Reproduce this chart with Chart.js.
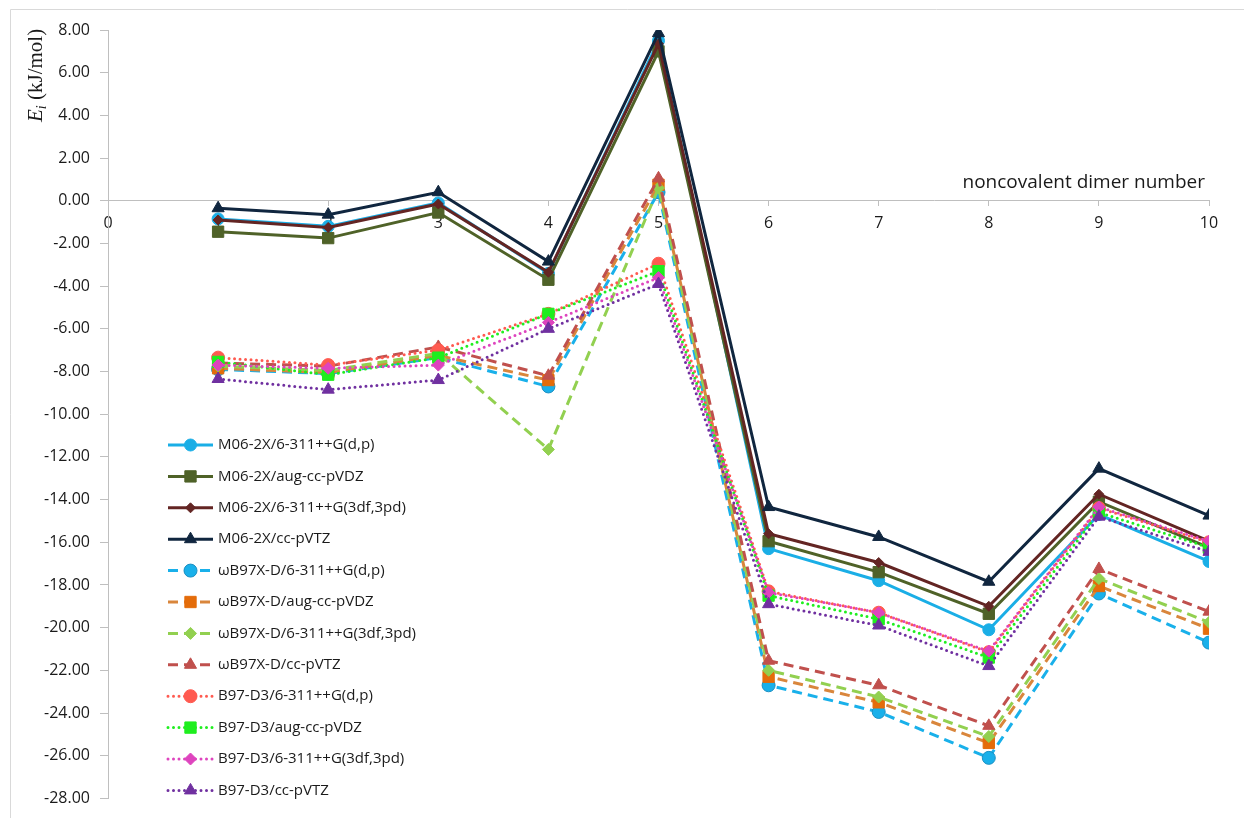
<!DOCTYPE html>
<html>
<head>
<meta charset="utf-8">
<script src="https://cdn.jsdelivr.net/npm/chart.js@4.4.1/dist/chart.umd.min.js"></script>
<style>
  html, body { margin: 0; padding: 0; background: #fff; }
  #wrap { position: relative; width: 1244px; height: 818px; }
</style>
</head>
<body>
<div id="wrap"><canvas id="myChart" width="1244" height="818"></canvas></div>
<script>
// dimer numbers on the x axis
var categories = [1, 2, 3, 4, 5, 6, 7, 8, 9, 10];
var xTicks = [0, 1, 2, 3, 4, 5, 6, 7, 8, 9, 10];
var yTicks = [8, 6, 4, 2, 0, -2, -4, -6, -8, -10, -12, -14, -16, -18, -20, -22, -24, -26, -28];

// series names
var seriesNames = [
  'M06-2X/6-311++G(d,p)', 'M06-2X/aug-cc-pVDZ', 'M06-2X/6-311++G(3df,3pd)', 'M06-2X/cc-pVTZ',
  '\u03c9B97X-D/6-311++G(d,p)', '\u03c9B97X-D/aug-cc-pVDZ', '\u03c9B97X-D/6-311++G(3df,3pd)', '\u03c9B97X-D/cc-pVTZ',
  'B97-D3/6-311++G(d,p)', 'B97-D3/aug-cc-pVDZ', 'B97-D3/6-311++G(3df,3pd)', 'B97-D3/cc-pVTZ'
];

// E_i values (kJ/mol)
var m062xDp   = [-0.85, -1.20, -0.10, -3.40, 7.50, -16.30, -17.80, -20.10, -14.70, -16.90];
var m062xAvdz = [-1.45, -1.75, -0.55, -3.70, 7.00, -15.95, -17.40, -19.35, -14.10, -16.25];
var m062x3df  = [-0.90, -1.25, -0.15, -3.35, 7.35, -15.60, -16.95, -19.00, -13.75, -15.95];
var m062xVtz  = [-0.35, -0.65, 0.40, -2.85, 7.85, -14.35, -15.75, -17.85, -12.55, -14.75];
var wbDp      = [-7.90, -8.10, -7.35, -8.70, 0.40, -22.70, -23.95, -26.10, -18.40, -20.70];
var wbAvdz    = [-7.85, -8.05, -7.25, -8.40, 0.75, -22.30, -23.50, -25.40, -18.05, -20.05];
var wb3df     = [-7.75, -7.95, -7.15, -11.65, 0.60, -22.00, -23.25, -25.10, -17.70, -19.75];
var wbVtz     = [-7.60, -7.75, -6.85, -8.20, 1.05, -21.55, -22.70, -24.60, -17.25, -19.25];
var b97Dp     = [-7.35, -7.70, -7.00, -5.30, -2.95, -18.30, -19.30, -21.15, -14.40, -16.00];
var b97Avdz   = [-7.55, -8.15, -7.35, -5.30, -3.30, -18.50, -19.60, -21.40, -14.60, -16.25];
var b973df    = [-7.70, -7.85, -7.70, -5.70, -3.60, -18.35, -19.30, -21.10, -14.35, -15.95];
var b97Vtz    = [-8.35, -8.85, -8.40, -6.00, -3.90, -18.90, -19.90, -21.80, -14.80, -16.45];

var allValues = [m062xDp, m062xAvdz, m062x3df, m062xVtz, wbDp, wbAvdz, wb3df, wbVtz, b97Dp, b97Avdz, b973df, b97Vtz];

// look of each series
var lineColors = ['#1aaee6', '#4f6228', '#632523', '#10263f', '#19b0ea', '#d9863c', '#92d050', '#c0504d', '#ff5a50', '#1fee1f', '#de44be', '#7030a0'];
var pointColors = ['#1aaee6', '#4f6228', '#632523', '#10263f', '#19b0ea', '#e46c0a', '#92d050', '#c0504d', '#ff5a50', '#1fee1f', '#de44be', '#7030a0'];
var pointBorders = ['#1aaee6', '#4f6228', '#632523', '#10263f', '#1b8fc2', '#e46c0a', '#92d050', '#c0504d', '#ff5a50', '#1fee1f', '#de44be', '#7030a0'];
var shapes = ['circle', 'rect', 'rectRot', 'triangle', 'circle', 'rect', 'rectRot', 'triangle', 'circle', 'rect', 'rectRot', 'triangle'];
var radii = [6, 8, 5, 7, 6.5, 8, 6, 7, 6.5, 8, 6, 7];
var dashes = [[], [], [], [], [10, 6], [10, 6], [10, 6], [10, 6], [0, 5.5], [0, 5.5], [0, 5.5], [0, 5.5]];
var caps = ['butt', 'butt', 'butt', 'butt', 'butt', 'butt', 'butt', 'butt', 'round', 'round', 'round', 'round'];

var fontName = '"Open Sans", "Liberation Sans", sans-serif';

var datasets = seriesNames.map(function (name, i) {
  return {
    label: name,
    data: categories.map(function (c, j) { return { x: c, y: allValues[i][j] }; }),
    borderColor: lineColors[i],
    backgroundColor: pointColors[i],
    pointBackgroundColor: pointColors[i],
    pointBorderColor: pointBorders[i],
    pointBorderWidth: 1,
    pointStyle: shapes[i],
    pointRadius: radii[i],
    borderWidth: 3,
    borderDash: dashes[i],
    borderCapStyle: caps[i],
    tension: 0,
    order: seriesNames.length - i   // later series on top, like the original
  };
});

// legend box, border, axis titles
var extras = {
  id: 'extras',
  afterDraw: function (chart) {
    var ctx = chart.ctx;
    var area = chart.chartArea;
    ctx.save();

    // outer frame
    ctx.strokeStyle = '#d9d9d9';
    ctx.lineWidth = 1;
    ctx.beginPath();
    ctx.moveTo(10.5, 830);
    ctx.lineTo(10.5, 9.5);
    ctx.lineTo(1260, 9.5);
    ctx.stroke();

    // x axis title
    var zeroY = chart.scales.y.getPixelForValue(0);
    ctx.fillStyle = '#1a1a1a';
    ctx.font = '19px ' + fontName;
    ctx.textAlign = 'right';
    ctx.textBaseline = 'alphabetic';
    ctx.fillText('noncovalent dimer number', area.right - 4, zeroY - 13);

    // y axis title: E_i (kJ/mol)
    ctx.translate(42, 122);
    ctx.rotate(-Math.PI / 2);
    ctx.textAlign = 'left';
    ctx.font = 'italic 21px "Liberation Serif", serif';
    ctx.fillText('E', 0, 0);
    var w = ctx.measureText('E').width;
    ctx.font = 'italic 14px "Liberation Serif", serif';
    ctx.fillText('i', w, 4);
    w += ctx.measureText('i').width;
    ctx.font = '21px "Liberation Serif", serif';
    ctx.fillText(' (kJ/mol)', w, 0);
    ctx.setTransform(1, 0, 0, 1, 0, 0);

    // legend
    var lx = area.left + 60;
    var ly = area.top + 415;
    var step = 31.4;
    ctx.font = '15px ' + fontName;
    ctx.textBaseline = 'middle';
    chart.data.datasets.forEach(function (ds, i) {
      var y = ly + i * step;
      ctx.strokeStyle = ds.borderColor;
      ctx.lineWidth = 3;
      ctx.lineCap = ds.borderCapStyle;
      ctx.setLineDash(ds.borderDash);
      ctx.beginPath();
      ctx.moveTo(lx, y);
      ctx.lineTo(lx + 45, y);
      ctx.stroke();
      ctx.setLineDash([]);
      ctx.lineCap = 'butt';
      ctx.fillStyle = ds.pointBackgroundColor;
      ctx.strokeStyle = ds.pointBorderColor;
      ctx.lineWidth = 1;
      Chart.helpers.drawPoint(ctx, { pointStyle: ds.pointStyle, radius: ds.pointRadius, rotation: 0, borderWidth: 1 }, lx + 22.5, y);
      ctx.fillStyle = '#1a1a1a';
      ctx.textAlign = 'left';
      ctx.fillText(ds.label, lx + 50, y);
    });
    ctx.restore();
  }
};

var ctx = document.getElementById('myChart').getContext('2d');
var myChart = new Chart(ctx, {
  type: 'line',
  data: { datasets: datasets },
  options: {
    responsive: false,
    animation: false,
    devicePixelRatio: 1,
    layout: { padding: { left: 10, top: 30, right: 35, bottom: 16 } },
    plugins: {
      legend: { display: false },
      tooltip: { enabled: false }
    },
    scales: {
      x: {
        type: 'linear',
        position: { y: 0 },
        min: xTicks[0],
        max: xTicks[xTicks.length - 1],
        afterBuildTicks: function (scale) {
          scale.ticks = xTicks.map(function (v) { return { value: v }; });
        },
        afterFit: function (scale) { scale.height = 0; },
        ticks: {
          color: '#1a1a1a',
          font: { family: fontName, size: 16 },
          padding: 8,
          maxRotation: 0
        },
        grid: { drawOnChartArea: false, drawTicks: true, tickLength: 5, color: '#bfbfbf' },
        border: { color: '#bfbfbf', width: 1 }
      },
      y: {
        type: 'linear',
        min: yTicks[yTicks.length - 1],
        max: yTicks[0],
        afterBuildTicks: function (scale) {
          scale.ticks = yTicks.map(function (v) { return { value: v }; });
        },
        afterFit: function (scale) { scale.width = 98; },
        ticks: {
          color: '#1a1a1a',
          font: { family: fontName, size: 16 },
          padding: 10,
          callback: function (v) { return v.toFixed(2); }
        },
        grid: { drawOnChartArea: false, drawTicks: true, tickLength: 8, color: '#bfbfbf' },
        border: { color: '#bfbfbf', width: 1 }
      }
    }
  },
  plugins: [extras]
});
</script>
</body>
</html>
